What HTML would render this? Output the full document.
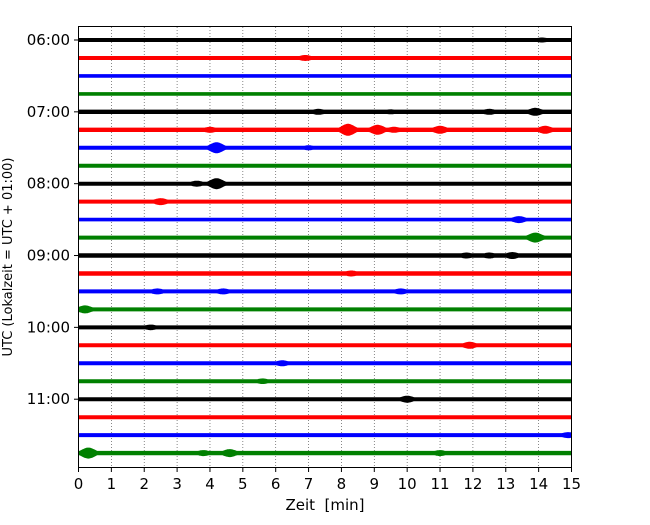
<!DOCTYPE html>
<html><head><meta charset="utf-8"><style>
body{margin:0;background:#fff;}
svg text{font-family:"DejaVu Sans","Liberation Sans",sans-serif;fill:#000;}
</style></head><body>
<svg id="chart" width="650" height="520" viewBox="0 0 650 520" xmlns="http://www.w3.org/2000/svg">
<g id="grid"></g>
<g id="traces"></g>
<rect x="78.5" y="26.5" width="493" height="441" fill="none" stroke="#000" stroke-width="1"/>
<g id="xticks"></g>
<g id="yticks"></g>
<text x="325" y="510" font-size="15" text-anchor="middle" xml:space="preserve">Zeit  [min]</text>
<text transform="translate(12,257) rotate(-90)" font-size="13" text-anchor="middle">UTC (Lokalzeit = UTC + 01:00)</text>
</svg>
<script>
const xTicks=[0,1,2,3,4,5,6,7,8,9,10,11,12,13,14,15];
const yTickLabels=["06:00","07:00","08:00","09:00","10:00","11:00"];
const yTickRows=[0,4,8,12,16,20];
const rowColors=["#000","#f00","#00f","#008000"];
const baseAmp=[2,2,1.8,1.8,2.2,2.2,2,2,2,2,1.8,2,2.2,2.2,2,2,2,2,2,2,2,2,2,2.2];
const evRow=[0,1,4,4,4,4,5,5,5,5,5,5,6,6,8,8,9,10,11,12,12,12,13,14,14,14,15,16,17,18,19,20,22,23,23,23,23];
const evMin=[14.1,6.9,7.3,13.9,12.5,9.5,8.2,9.1,9.6,11,14.2,4.0,4.2,7.0,4.2,3.6,2.5,13.4,13.9,11.8,13.2,12.5,8.3,2.4,4.4,9.8,0.2,2.2,11.9,6.2,5.6,10.0,14.9,0.3,4.6,3.8,11.0];
const evAmp=[2.5,3,3,4,3,2.5,6,5,3,4,4,3,5.5,2.5,5.5,3,3.5,3.5,5,3,3.5,3,3,3,3,3,4,2.8,3.5,3,2.8,3.5,3,5.5,4,3,3];
const X0=78.5,X1=571.5,Y0=40,DY=17.96;
const sx=m=>X0+(X1-X0)*m/15;
const sy=r=>Y0+r*DY;
const NS="http://www.w3.org/2000/svg";
function mk(t,a,p){const e=document.createElementNS(NS,t);for(const k in a)e.setAttribute(k,a[k]);p.appendChild(e);return e;}
const grid=document.getElementById('grid'),xt=document.getElementById('xticks'),yt=document.getElementById('yticks'),tr=document.getElementById('traces');
xTicks.forEach(m=>{
 if(m>0&&m<15){const l=mk('line',{x1:sx(m),x2:sx(m),y1:27,y2:467,stroke:'#555','stroke-width':0.7,'stroke-dasharray':'1,2'},grid);
 
 }
 const t=mk('line',{x1:sx(m),x2:sx(m),y1:468,y2:472,stroke:'#000'},xt);
 
 
 const tx=mk('text',{x:sx(m),y:489,'font-size':15,'text-anchor':'middle'},xt);tx.textContent=m;
 
 
});
yTickRows.forEach((r,i)=>{
 const t=mk('line',{x1:74,x2:78,y1:sy(r),y2:sy(r),stroke:'#000'},yt);
 
 
 const tx=mk('text',{x:70,y:sy(r)+5,'font-size':15,'text-anchor':'end'},yt);tx.textContent=yTickLabels[i];
 
 
});
for(let r=0;r<baseAmp.length;r++){
 const top=[],bot=[];
 for(let m=0;m<=15.0001;m+=0.03){
  let a=baseAmp[r];
  for(let k=0;k<evRow.length;k++){if(evRow[k]!==r)continue;const d=(m-evMin[k])/0.28;a=Math.max(a,evAmp[k]*Math.exp(-d*d));}
  top.push(sx(m).toFixed(1)+','+(sy(r)-a).toFixed(1));
  bot.unshift(sx(m).toFixed(1)+','+(sy(r)+a).toFixed(1));
 }
 const p=mk('polygon',{points:top.concat(bot).join(' '),fill:rowColors[r%4]},tr);
 
 
}
</script>
</body></html>
